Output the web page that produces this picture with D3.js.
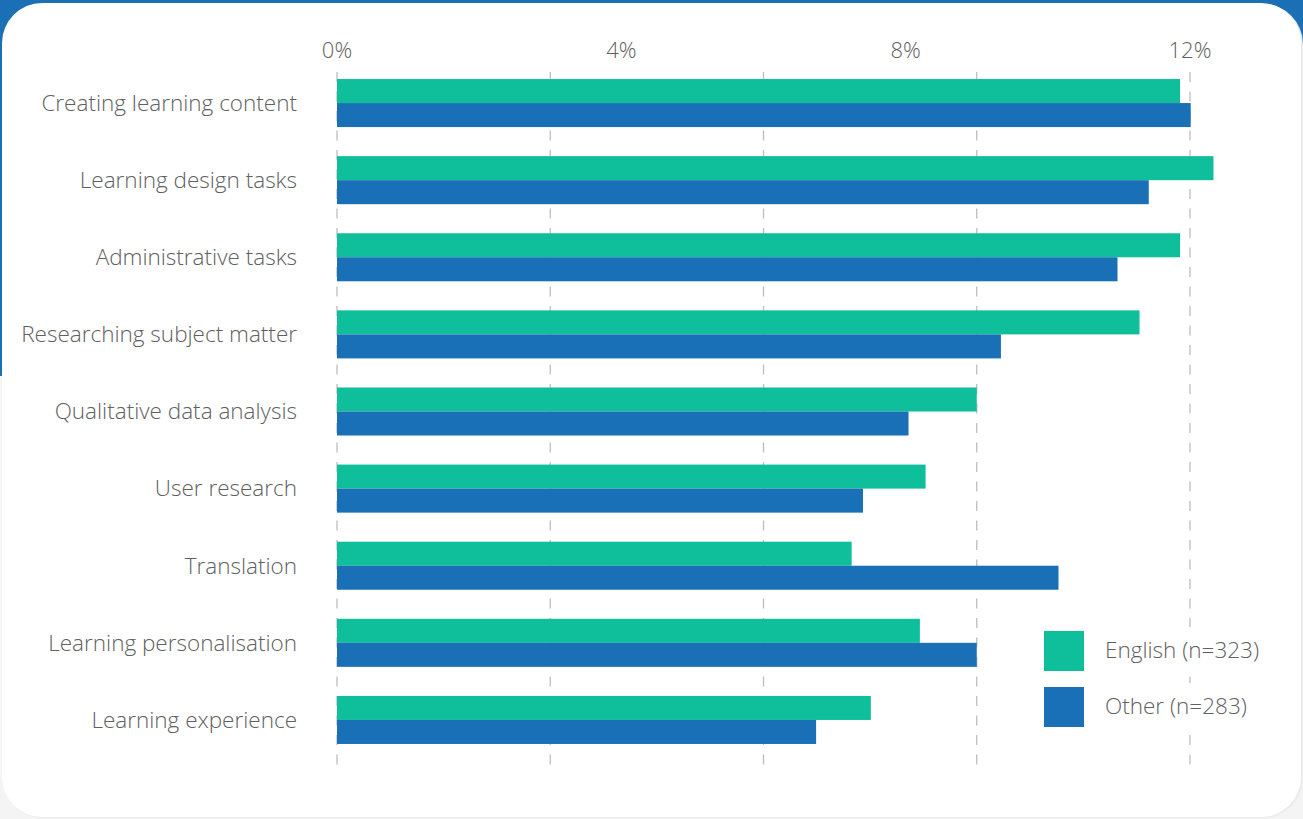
<!DOCTYPE html>
<html>
<head>
<meta charset="utf-8">
<script src="https://cdn.jsdelivr.net/npm/d3@7"></script>
<style>
  body { margin: 0; background: #f4f4f4; }
  svg { display: block; }
  .cat, .tick-label, .legend-text { font-family: "Open Sans", sans-serif; font-weight: 300; fill: #606060; }
</style>
</head>
<body>
<svg width="1303" height="819"></svg>
<script>
// categories top to bottom
const categories = [
  'Creating learning content',
  'Learning design tasks',
  'Administrative tasks',
  'Researching subject matter',
  'Qualitative data analysis',
  'User research',
  'Translation',
  'Learning personalisation',
  'Learning experience'
];
const series = ['English (n=323)', 'Other (n=283)'];
const english = [11.86, 12.33, 11.86, 11.29, 9.0, 8.28, 7.24, 8.2, 7.51];
const other = [12.01, 11.42, 10.98, 9.34, 8.04, 7.4, 10.15, 9.0, 6.74];
const tickLabels = [0, 4, 8, 12];   // labels on top
const gridValues = [0, 3, 6, 9, 12]; // dashed lines

const colors = ['#0fbe9a', '#1a70b6'];

const svg = d3.select('svg');

// background: blue band at top, white card on top of it
svg.append('rect').attr('x', 0).attr('y', 0).attr('width', 1303).attr('height', 376).attr('fill', '#1a6fb5');
svg.append('rect').attr('x', 3).attr('y', 4).attr('width', 1300).attr('height', 814)
  .attr('rx', 40).attr('fill', '#ebebeb');
svg.append('rect').attr('x', 2).attr('y', 3).attr('width', 1299).attr('height', 814)
  .attr('rx', 40).attr('fill', '#ffffff');

const x = d3.scaleLinear().domain([0, 12]).range([337, 1190]);

const y = d3.scaleBand()
  .domain(categories)
  .range([64.5, 758.5])
  .paddingInner(0.377)
  .paddingOuter(0.1885);

const ySub = d3.scaleBand().domain(series).range([0, y.bandwidth()]);

// gridlines
svg.append('g').selectAll('line')
  .data(gridValues)
  .join('line')
  .attr('x1', d => x(d)).attr('x2', d => x(d))
  .attr('y1', 72).attr('y2', 766)
  .attr('stroke', '#bdbdbd')
  .attr('stroke-width', 1.3)
  .attr('stroke-dasharray', '10,9.5');

// top tick labels
svg.append('g').selectAll('text')
  .data(tickLabels)
  .join('text')
  .attr('class', 'tick-label')
  .attr('x', d => x(d))
  .attr('y', 50)
  .attr('dy', '0.35em')
  .attr('text-anchor', 'middle')
  .style('font-size', '22px')
  .text(d => d + '%');

// bars
const rows = categories.map((c, i) => ({ cat: c, vals: [english[i], other[i]] }));

const groups = svg.append('g').selectAll('g')
  .data(rows)
  .join('g')
  .attr('transform', d => `translate(0, ${y(d.cat)})`);

groups.selectAll('rect')
  .data(d => d.vals.map((v, j) => ({ key: series[j], v, j })))
  .join('rect')
  .attr('x', x(0))
  .attr('y', d => ySub(d.key))
  .attr('width', d => x(d.v) - x(0))
  .attr('height', ySub.bandwidth())
  .attr('fill', d => colors[d.j]);

// category labels
groups.append('text')
  .attr('class', 'cat')
  .attr('x', 297)
  .attr('y', y.bandwidth() / 2)
  .attr('dy', '0.35em')
  .attr('text-anchor', 'end')
  .style('font-size', '22.5px')
  .text(d => d.cat);

// legend
const legend = svg.append('g').attr('transform', 'translate(1044, 631)');
legend.append('rect').attr('x', -12).attr('y', -4).attr('width', 240).attr('height', 48).attr('fill', '#fff');
legend.append('rect').attr('x', -12).attr('y', 52).attr('width', 240).attr('height', 48).attr('fill', '#fff');
const items = legend.selectAll('g.item')
  .data(series)
  .join('g')
  .attr('class', 'item')
  .attr('transform', (d, i) => `translate(0, ${i * 56})`);
items.append('rect').attr('width', 40).attr('height', 40).attr('fill', (d, i) => colors[i]);
items.append('text')
  .attr('class', 'legend-text')
  .attr('x', 61)
  .attr('y', 19)
  .attr('dy', '0.35em')
  .style('font-size', '22.5px')
  .text(d => d);
</script>
</body>
</html>
